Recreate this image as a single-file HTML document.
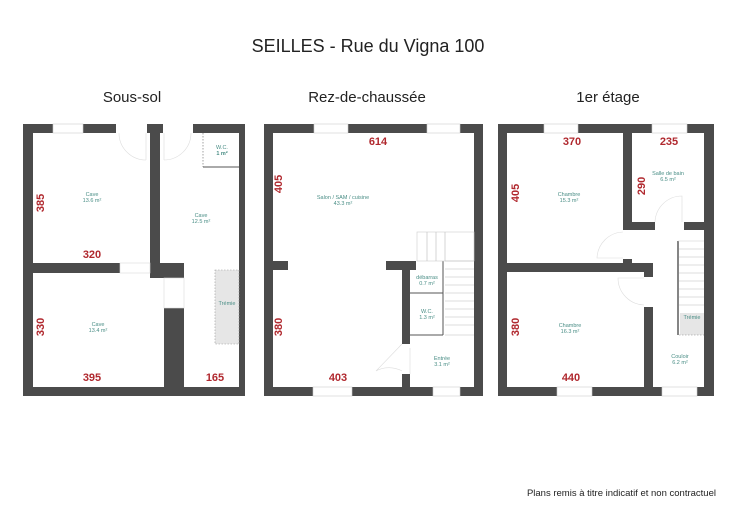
<!DOCTYPE html>
<html><head><meta charset="utf-8"><style>
html,body{margin:0;padding:0;background:#fff;}
svg{display:block;}
text{font-family:"Liberation Sans",sans-serif;}
.t{fill:#222;}
.d{fill:#b0282e;font-weight:bold;font-size:11px;}
.r{fill:#4a8e86;font-size:5.5px;text-anchor:middle;}
.w{fill:#4b4b4b;}
.win{fill:#fff;stroke:#ccc;stroke-width:0.6;}
.thin{stroke:#555;stroke-width:1;}
.arc{fill:none;stroke:#ddd;stroke-width:0.6;}
.tr{stroke:#bbb;stroke-width:0.6;}
</style></head><body>
<svg width="736" height="520" viewBox="0 0 736 520" xmlns="http://www.w3.org/2000/svg">
<text class="t" x="368" y="52" font-size="18" text-anchor="middle">SEILLES - Rue du Vigna 100</text>
<text class="t" x="132" y="102" font-size="15" text-anchor="middle">Sous-sol</text>
<text class="t" x="367" y="102" font-size="15" text-anchor="middle">Rez-de-chaussée</text>
<text class="t" x="608" y="102" font-size="15" text-anchor="middle">1er étage</text>
<text class="t" x="716" y="496" font-size="9.5" text-anchor="end">Plans remis à titre indicatif et non contractuel</text>

<!-- PLAN 1 -->
<g>
<rect class="w" x="23" y="124" width="221" height="9"/>
<rect class="w" x="23" y="387" width="221" height="9"/>
<rect class="w" x="23" y="124" width="10" height="272"/>
<rect class="w" x="239" y="124" width="6" height="272"/>
<rect class="win" x="53" y="124" width="30" height="9"/>
<rect fill="#fff" x="116" y="124" width="31" height="9"/>
<rect fill="#fff" x="163" y="124" width="30" height="9"/>
<path class="arc" d="M146 133 L146 160 M146 160 A27 27 0 0 1 119 133"/>
<path class="arc" d="M164 133 L164 160 M164 160 A27 27 0 0 0 191 133"/>
<rect class="w" x="150" y="124" width="10" height="149"/>
<rect class="w" x="150" y="263" width="34" height="15"/>
<rect class="w" x="164" y="308" width="20" height="88"/>
<rect class="w" x="33" y="263" width="87" height="10"/>
<rect fill="#fff" stroke="#ddd" stroke-width="0.6" x="120" y="263" width="30" height="10"/>
<rect fill="#fff" stroke="#ddd" stroke-width="0.6" x="164" y="278" width="20" height="30"/>
<line class="thin" x1="203" y1="167" x2="239" y2="167" stroke-width="1.5"/>
<line x1="203" y1="133" x2="203" y2="167" stroke="#666" stroke-width="0.6" stroke-dasharray="1.5,1.5"/>
<rect x="215" y="270" width="24" height="74" fill="#e6e6e6" stroke="#999" stroke-width="0.6" stroke-dasharray="1.5,1.5"/>
<text class="r" x="222" y="149">W.C.</text><text class="r" x="222" y="155" font-weight="bold">1 m²</text>
<text class="r" x="92" y="196">Cave</text><text class="r" x="92" y="202">13.6 m²</text>
<text class="r" x="201" y="217">Cave</text><text class="r" x="201" y="223">12.5 m²</text>
<text class="r" x="98" y="326">Cave</text><text class="r" x="98" y="332">13.4 m²</text>
<text class="r" x="227" y="305">Trémie</text>
<text class="d" x="92" y="258" text-anchor="middle">320</text>
<text class="d" x="92" y="381" text-anchor="middle">395</text>
<text class="d" x="215" y="381" text-anchor="middle">165</text>
<text class="d" transform="translate(44,203) rotate(-90)" text-anchor="middle">385</text>
<text class="d" transform="translate(44,327) rotate(-90)" text-anchor="middle">330</text>
</g>

<!-- PLAN 2 -->
<g>
<rect class="w" x="264" y="124" width="219" height="9"/>
<rect class="w" x="264" y="387" width="219" height="9"/>
<rect class="w" x="264" y="124" width="9" height="272"/>
<rect class="w" x="474" y="124" width="9" height="272"/>
<rect class="win" x="314" y="124" width="34" height="9"/>
<rect class="win" x="427" y="124" width="33" height="9"/>
<rect class="win" x="313" y="387" width="39" height="9"/>
<rect class="win" x="433" y="387" width="27" height="9"/>
<rect class="w" x="273" y="261" width="15" height="9"/>
<rect class="w" x="386" y="261" width="30" height="9"/>
<rect class="w" x="402" y="261" width="8" height="83"/>
<rect class="w" x="402" y="374" width="8" height="22"/>
<line class="thin" x1="410" y1="293" x2="443" y2="293"/>
<line class="thin" x1="410" y1="335" x2="443" y2="335"/>
<line class="thin" x1="443" y1="261" x2="443" y2="335" stroke-width="2"/>
<rect x="417" y="232" width="57" height="29" fill="#fff" stroke="#ccc" stroke-width="0.6"/>
<line class="tr" x1="427" y1="232" x2="427" y2="261"/><line class="tr" x1="436" y1="232" x2="436" y2="261"/><line class="tr" x1="445" y1="232" x2="445" y2="261"/>
<g class="tr">
<line x1="445" y1="261" x2="474" y2="261"/><line x1="445" y1="269" x2="474" y2="269"/><line x1="445" y1="277" x2="474" y2="277"/><line x1="445" y1="285" x2="474" y2="285"/><line x1="445" y1="293" x2="474" y2="293"/><line x1="445" y1="301" x2="474" y2="301"/><line x1="445" y1="309" x2="474" y2="309"/><line x1="445" y1="317" x2="474" y2="317"/><line x1="445" y1="325" x2="474" y2="325"/><line x1="445" y1="335" x2="474" y2="335"/>
</g>
<path class="arc" d="M402 344 L376 371 M402 371 A27 27 0 0 0 376 371 M410 348 L410 374"/>
<text class="r" x="343" y="199">Salon / SAM / cuisine</text><text class="r" x="343" y="205">43.3 m²</text>
<text class="r" x="427" y="279">débarras</text><text class="r" x="427" y="285">0.7 m²</text>
<text class="r" x="427" y="313">W.C.</text><text class="r" x="427" y="319">1.3 m²</text>
<text class="r" x="442" y="360">Entrée</text><text class="r" x="442" y="366">3.1 m²</text>
<text class="d" x="378" y="145" text-anchor="middle">614</text>
<text class="d" x="338" y="381" text-anchor="middle">403</text>
<text class="d" transform="translate(282,184) rotate(-90)" text-anchor="middle">405</text>
<text class="d" transform="translate(282,327) rotate(-90)" text-anchor="middle">380</text>
</g>

<!-- PLAN 3 -->
<g>
<rect class="w" x="498" y="124" width="216" height="9"/>
<rect class="w" x="498" y="387" width="216" height="9"/>
<rect class="w" x="498" y="124" width="9" height="272"/>
<rect class="w" x="704" y="124" width="10" height="272"/>
<rect class="win" x="544" y="124" width="34" height="9"/>
<rect class="win" x="652" y="124" width="35" height="9"/>
<rect class="win" x="557" y="387" width="35" height="9"/>
<rect class="win" x="662" y="387" width="35" height="9"/>
<rect class="w" x="623" y="124" width="9" height="106"/>
<rect class="w" x="623" y="222" width="32" height="8"/>
<rect class="w" x="684" y="222" width="20" height="8"/>
<rect class="w" x="623" y="259" width="9" height="5"/>
<rect class="w" x="507" y="263" width="146" height="9"/>
<rect class="w" x="644" y="263" width="9" height="14"/>
<rect class="w" x="644" y="307" width="9" height="80"/>
<path class="arc" d="M655 222 A27 27 0 0 1 682 196 L682 222"/>
<path class="arc" d="M623 258 L597 258 A27 27 0 0 1 623 232"/>
<path class="arc" d="M644 278 L618 278 A27 27 0 0 0 644 305"/>
<rect x="678" y="241" width="26" height="94" fill="#fff"/>
<rect x="680" y="313" width="24" height="22" fill="#e6e6e6"/>
<line x1="678" y1="241" x2="678" y2="335" stroke="#333" stroke-width="1.2"/>
<line x1="678" y1="241" x2="704" y2="241" stroke="#ccc" stroke-width="0.6"/>
<g class="tr">
<line x1="679" y1="249" x2="704" y2="249"/><line x1="679" y1="257" x2="704" y2="257"/><line x1="679" y1="265" x2="704" y2="265"/><line x1="679" y1="273" x2="704" y2="273"/><line x1="679" y1="281" x2="704" y2="281"/><line x1="679" y1="289" x2="704" y2="289"/><line x1="679" y1="297" x2="704" y2="297"/><line x1="679" y1="305" x2="704" y2="305"/>
</g>
<line x1="679" y1="335" x2="704" y2="335" stroke="#888" stroke-width="0.6" stroke-dasharray="1.5,1.5"/>
<text class="r" x="692" y="319">Trémie</text>
<text class="r" x="668" y="175">Salle de bain</text><text class="r" x="668" y="181">6.5 m²</text>
<text class="r" x="569" y="196">Chambre</text><text class="r" x="569" y="202">15.3 m²</text>
<text class="r" x="570" y="327">Chambre</text><text class="r" x="570" y="333">16.3 m²</text>
<text class="r" x="680" y="358">Couloir</text><text class="r" x="680" y="364">6.2 m²</text>
<text class="d" x="572" y="145" text-anchor="middle">370</text>
<text class="d" x="669" y="145" text-anchor="middle">235</text>
<text class="d" x="571" y="381" text-anchor="middle">440</text>
<text class="d" transform="translate(519,193) rotate(-90)" text-anchor="middle">405</text>
<text class="d" transform="translate(645,186) rotate(-90)" text-anchor="middle">290</text>
<text class="d" transform="translate(519,327) rotate(-90)" text-anchor="middle">380</text>
</g>
</svg>
</body></html>
